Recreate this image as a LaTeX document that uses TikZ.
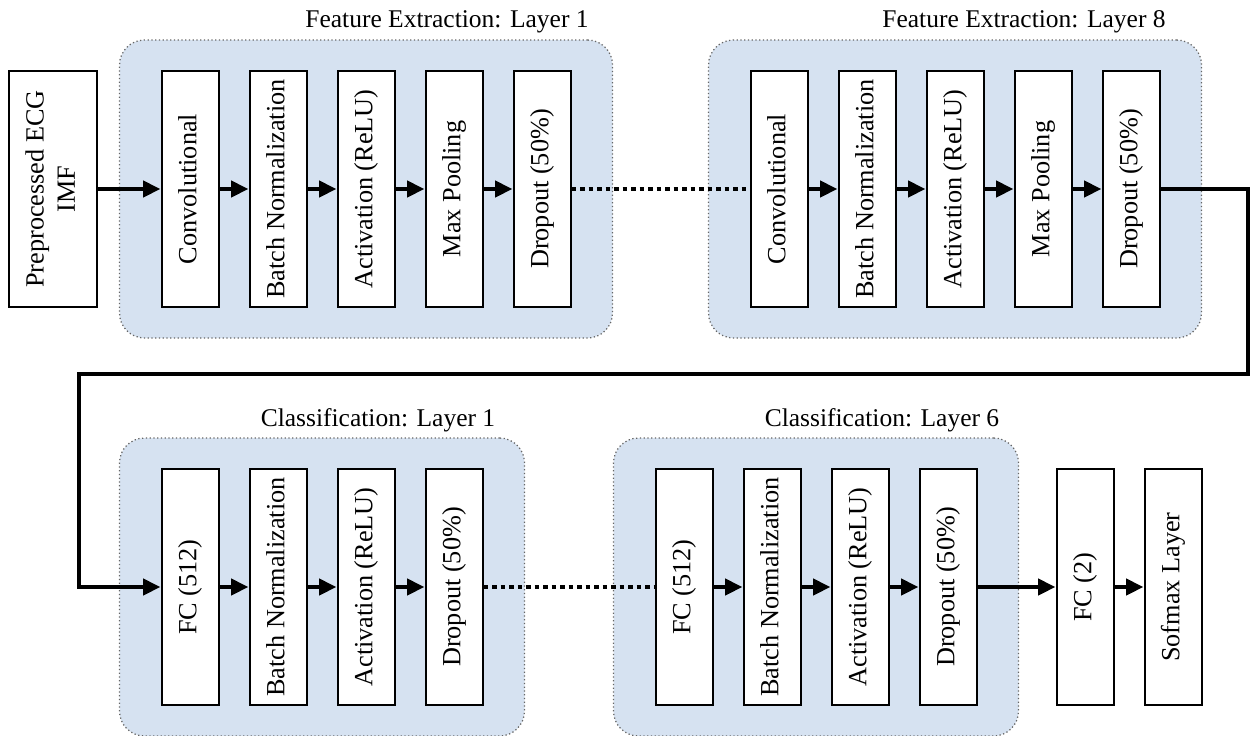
\documentclass[tikz,border=0pt]{standalone}
\usepackage{fontspec}
\setmainfont{Liberation Serif}
\usepackage{graphicx}
\usepackage{xcolor}
\usetikzlibrary{arrows.meta, positioning, fit, backgrounds}
\definecolor{groupblue}{RGB}{214,226,241}
\newcommand{\vlabel}[1]{\rotatebox{90}{\begin{tabular}{@{}c@{}}#1\end{tabular}}}

\begin{document}
\begin{tikzpicture}[
    x=0.4pt, y=-0.4pt,
    arr/.style={-{Triangle[length=7pt, width=6.4pt]}, line width=1.9pt},
    link/.style={line width=1.9pt, dash pattern=on 1.9pt off 1.5pt},
    layer/.style={draw, line width=0.8pt, fill=white, inner sep=0pt,
                  minimum width=22.8pt, minimum height=94.4pt,
                  font=\fontsize{10.5}{12.5}\selectfont},
    group/.style={draw=black!60, densely dotted, line width=0.5pt, fill=groupblue,
                  rounded corners=10pt, inner xsep=16.4pt, inner ysep=12pt},
    title/.style={font=\fontsize{10.2}{12}\selectfont},
    node distance=11.6pt,
]
\useasboundingbox (0,0) rectangle (1252,735);

% feature extraction row
\node[layer, minimum width=34.8pt] (inp) at (53,189) {\vlabel{Preprocessed ECG\\IMF}};
\node[layer] (conv1) at (190,189) {\vlabel{Convolutional}};
\node[layer, right=of conv1] (bn1) {\vlabel{Batch Normalization}};
\node[layer, right=of bn1] (act1) {\vlabel{Activation (ReLU)}};
\node[layer, right=of act1] (pool1) {\vlabel{Max Pooling}};
\node[layer, right=of pool1] (drop1) {\vlabel{Dropout (50\%)}};

\node[layer] (conv8) at (779,189) {\vlabel{Convolutional}};
\node[layer, right=of conv8] (bn8) {\vlabel{Batch Normalization}};
\node[layer, right=of bn8] (act8) {\vlabel{Activation (ReLU)}};
\node[layer, right=of act8] (pool8) {\vlabel{Max Pooling}};
\node[layer, right=of pool8] (drop8) {\vlabel{Dropout (50\%)}};

% classification row
\node[layer] (fc1) at (190,587) {\vlabel{FC (512)}};
\node[layer, right=of fc1] (cbn1) {\vlabel{Batch Normalization}};
\node[layer, right=of cbn1] (cact1) {\vlabel{Activation (ReLU)}};
\node[layer, right=of cact1] (cdrop1) {\vlabel{Dropout (50\%)}};

\node[layer] (fc6) at (684,587) {\vlabel{FC (512)}};
\node[layer, right=of fc6] (cbn6) {\vlabel{Batch Normalization}};
\node[layer, right=of cbn6] (cact6) {\vlabel{Activation (ReLU)}};
\node[layer, right=of cact6] (cdrop6) {\vlabel{Dropout (50\%)}};

\node[layer, right=31.2pt of cdrop6] (fcout) {\vlabel{FC (2)}};
\node[layer, right=of fcout] (soft) {\vlabel{Sofmax Layer}};

\begin{scope}[on background layer]
\node[group, fit=(conv1)(drop1)] (fe1) {};
\node[group, fit=(conv8)(drop8)] (fe8) {};
\node[group, fit=(fc1)(cdrop1)] (cl1) {};
\node[group, fit=(fc6)(cdrop6)] (cl6) {};
\end{scope}

\node[title] (fe1t) at (447,22) {Feature Extraction: Layer 1};
\node[title] (fe8t) at (1024,22) {Feature Extraction: Layer 8};
\node[title] (cl1t) at (378,420) {Classification: Layer 1};
\node[title] (cl6t) at (882,420) {Classification: Layer 6};

\draw[arr] (inp) -- (conv1);
\draw[arr] (conv1) -- (bn1);
\draw[arr] (bn1) -- (act1);
\draw[arr] (act1) -- (pool1);
\draw[arr] (pool1) -- (drop1);
\draw[link] (drop1) -- (conv8);
\draw[arr] (conv8) -- (bn8);
\draw[arr] (bn8) -- (act8);
\draw[arr] (act8) -- (pool8);
\draw[arr] (pool8) -- (drop8);

% wrap around to the second row
\coordinate (wrapR) at (1248,374);
\coordinate (wrapL) at (79,374);
\draw[arr] (drop8) -| (wrapR) -- (wrapL) |- (fc1);

\draw[arr] (fc1) -- (cbn1);
\draw[arr] (cbn1) -- (cact1);
\draw[arr] (cact1) -- (cdrop1);
\draw[link] (cdrop1) -- (fc6);
\draw[arr] (fc6) -- (cbn6);
\draw[arr] (cbn6) -- (cact6);
\draw[arr] (cact6) -- (cdrop6);
\draw[arr] (cdrop6) -- (fcout);
\draw[arr] (fcout) -- (soft);
\end{tikzpicture}
\end{document}
